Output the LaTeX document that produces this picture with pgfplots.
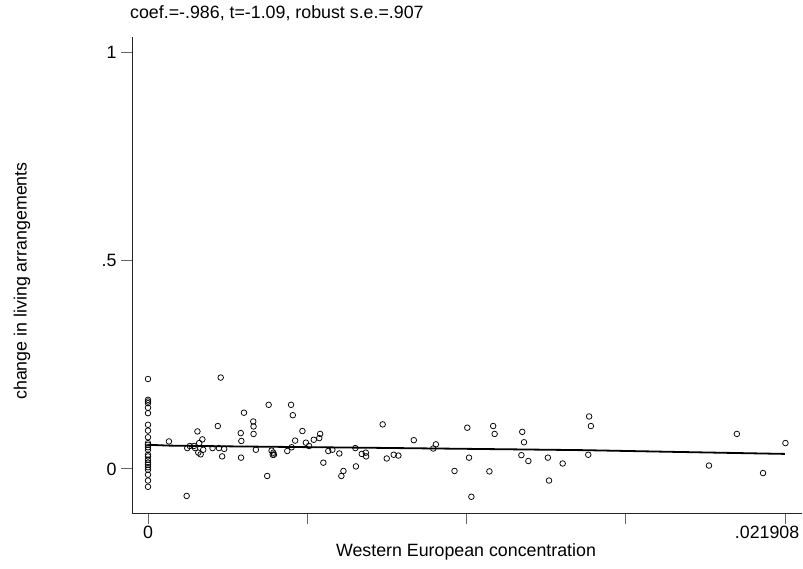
\documentclass[border=0pt]{standalone}
\usepackage{pgfplots}
\pgfplotsset{compat=1.18}
\usepackage{fontspec}
\setmainfont{Liberation Sans}
\usetikzlibrary{calc}
\newcommand{\fs}{\fontsize{17.8}{21}\selectfont}
\begin{document}
\begin{tikzpicture}
\begin{axis}[
  scale only axis,
  width=670pt, height=476pt,
  xmin=-0.00055, xmax=0.02249,
  ymin=-0.106, ymax=1.038,
  axis lines=left,
  axis line style={-, black!85, line width=0.9pt},
  tick align=outside,
  major tick length=11pt,
  tick style={black!60, line width=0.9pt},
  scaled x ticks=false,
  scaled y ticks=false,
  xtick={0,0.005477,0.010954,0.016431,0.021908},
  xticklabels={0,,,,\hspace*{-36pt}.021908},
  ytick={0,0.5,1},
  yticklabels={0,.5,1},
  tick label style={font=\fs},
  xticklabel style={yshift=1pt},
  yticklabel style={xshift=-1pt},
  clip=false,
]
\coordinate (SW) at (rel axis cs:0,0);
\addplot[only marks, mark=o, mark size=2.8pt, mark options={line width=0.75pt, black}] table {
x y
0 0.216
0 0.166
0 0.162
0 0.158
0 0.147
0 0.134
0 0.106
0 0.092
0 0.076
0 0.062
0 0.058
0 0.052
0 0.046
0 0.034
0 0.030
0 0.022
0 0.015
0 0.010
0 0.004
0 -0.002
0 -0.014
0 -0.028
0 -0.043
0.00072 0.066
0.00133 -0.065
0.00135 0.050
0.00144 0.055
0.00158 0.055
0.00162 0.050
0.00170 0.090
0.00176 0.062
0.00173 0.039
0.00181 0.035
0.00187 0.071
0.00190 0.046
0.00222 0.050
0.00240 0.103
0.00244 0.050
0.00250 0.2195
0.00255 0.030
0.00262 0.048
0.00319 0.086
0.00321 0.067
0.00320 0.027
0.00330 0.135
0.00362 0.114
0.00363 0.102
0.00363 0.084
0.00371 0.046
0.00410 -0.017
0.00415 0.154
0.00425 0.044
0.00429 0.034
0.00431 0.039
0.00433 0.034
0.00479 0.043
0.00492 0.154
0.00498 0.129
0.00494 0.052
0.00506 0.068
0.00531 0.091
0.00543 0.063
0.00554 0.055
0.00570 0.070
0.00589 0.074
0.00592 0.084
0.00603 0.015
0.00620 0.043
0.00634 0.046
0.00658 0.037
0.00665 -0.017
0.00672 -0.005
0.00713 0.050
0.00715 0.006
0.00735 0.036
0.00749 0.039
0.00750 0.030
0.00807 0.107
0.00821 0.025
0.00845 0.034
0.00861 0.032
0.00914 0.069
0.00981 0.049
0.00990 0.059
0.01054 -0.005
0.01098 0.099
0.01104 0.027
0.01112 -0.067
0.01174 -0.006
0.01187 0.103
0.01192 0.084
0.01284 0.033
0.01287 0.089
0.01293 0.064
0.01308 0.019
0.01375 0.027
0.01379 -0.028
0.01426 0.013
0.01517 0.126
0.01523 0.103
0.01514 0.034
0.01929 0.008
0.02025 0.084
0.02115 -0.010
0.02192 0.062
};
\addplot[black, line width=1.8pt, no marks] coordinates {
(0,0.058) (0.0007,0.056) (0.003,0.054) (0.0073,0.051) (0.0125,0.047) (0.015,0.045) (0.018,0.041) (0.0219,0.036)
};
\end{axis}
\node[anchor=base west, font=\fs, inner sep=0pt] at ($(SW)+(-2pt,494pt)$) {coef.=-.986, t=-1.09, robust s.e.=.907};
\node[anchor=base, font=\fs, inner sep=0pt] at ($(SW)+(334pt,-44pt)$) {Western European concentration};
\node[anchor=center, rotate=90, font=\fs, inner sep=0pt] at ($(SW)+(-110pt,232pt)$) {change in living arrangements};
\pgfresetboundingbox
\path[use as bounding box] ($(SW)+(-132pt,-56pt)$) rectangle ++(803pt,569pt);
\end{tikzpicture}
\end{document}
